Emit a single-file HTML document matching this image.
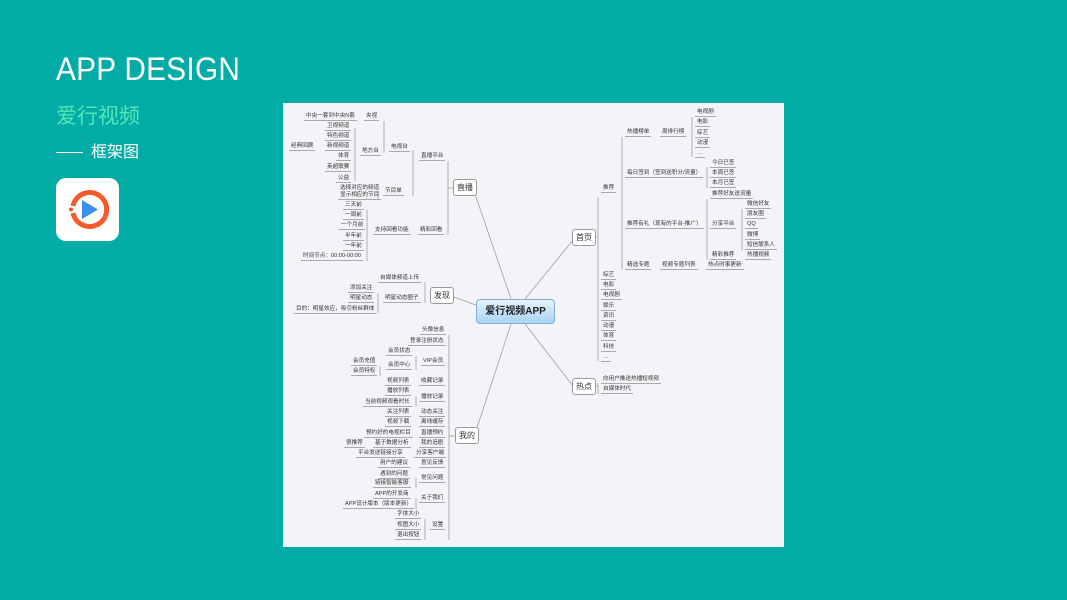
<!DOCTYPE html>
<html><head><meta charset="utf-8"><style>
*{margin:0;padding:0;box-sizing:border-box}
body{width:1067px;height:600px;background:#00aca5;position:relative;overflow:hidden;font-family:"Liberation Sans","Noto Sans CJK SC",sans-serif}
.t1{position:absolute;left:56px;top:51px;color:#fff;font-size:32px;letter-spacing:0.3px;font-weight:300;transform:scaleX(0.93);transform-origin:left top}
.t2{position:absolute;left:56px;top:100px;color:#55e6b6;font-size:21px}
.t3{position:absolute;left:56px;top:138px;color:#fff;font-size:16px}
.t3 i{display:inline-block;width:27px;height:1px;background:#fff;vertical-align:middle;margin-right:8px}
.icon{position:absolute;left:56px;top:178px;width:63px;height:63px;background:#fff;border-radius:10px}
.panel{position:absolute;left:283px;top:103px;width:501px;height:444px;background:#f3f4f7}
.l{position:absolute;font-size:5.6px;line-height:7px;color:#333;white-space:nowrap;border-bottom:1px solid #a9a9a9;padding:0 2px;transform:translateY(-5px)}
.b{position:absolute;font-size:8px;color:#333;background:#fff;border:1px solid #999;border-radius:3px;padding:3px 3px;line-height:9px}
.c{position:absolute;left:476px;top:299px;width:79px;height:25px;border:1px solid #7fb0d8;border-radius:4px;background:linear-gradient(#e6f3fd,#a9d4f4);font-size:10px;color:#222;text-align:center;line-height:23px;font-weight:bold}
svg{position:absolute;left:0;top:0}
</style></head><body>
<div class="t1">APP DESIGN</div>
<div class="t2">爱行视频</div>
<div class="t3"><i></i>框架图</div>
<div class="icon"><svg width="63" height="63" viewBox="0 0 63 63"><path d="M17 28 A17 17 0 1 1 17 35" fill="none" stroke="#f55a2a" stroke-width="5"/><circle cx="15" cy="31.5" r="2" fill="#f55a2a"/><path d="M26 22 L42 31.5 L26 41 Z" fill="#3a8ff0"/></svg></div>
<div class="panel"></div>
<svg width="1067" height="600" fill="none" stroke="#a0a0a0" stroke-width="0.8">
<path d="M511 299 L475 194 M525 299 L573 240 M476 305 L451 296 M511 324 L474 437 M525 324 L573 386"/>
<path d="M384 121 V153 M355 128 V181 M413 150 V196 M448 161 V235 M453 188 H448 M378 191 V199 M367 210 V261 M425 282 V303 M378 293 V313"/>
<path d="M449 335 V540 M449 436 H455 M416 356 V370 M380 366 V376 M416 396 V407 M416 478 V488 M416 498 V509 M425 519 V540"/>
<path d="M598 197 V361 M592 237 H598 M622 137 V270 M692 117 V157 M707 167 V188 M707 199 V260 M742 209 V250 M598 383 V394 M592 386 H598"/>
</svg>
<span class="l" style="left:304px;top:118px">中央一套到中央N套</span>
<span class="l" style="left:364px;top:118px">央视</span>
<span class="l" style="left:325px;top:128px">卫视频道</span>
<span class="l" style="left:325px;top:138px">特色频道</span>
<span class="l" style="left:289px;top:148px">经典回顾</span>
<span class="l" style="left:325px;top:148px">新视频道</span>
<span class="l" style="left:336px;top:158px">体育</span>
<span class="l" style="left:325px;top:169px">英超联赛</span>
<span class="l" style="left:336px;top:180px">公益</span>
<span class="l" style="left:360px;top:153px">地方台</span>
<span class="l" style="left:389px;top:149px">电视台</span>
<span class="l" style="left:419px;top:158px">直播平台</span>
<span class="l" style="left:338px;top:190px;border:none">选择对应的频道</span>
<span class="l" style="left:338px;top:197px">显示相应的节目</span>
<span class="l" style="left:383px;top:193px">节目单</span>
<span class="l" style="left:343px;top:207px">三天前</span>
<span class="l" style="left:343px;top:217px">一周前</span>
<span class="l" style="left:339px;top:227px">一个月前</span>
<span class="l" style="left:343px;top:238px">半年前</span>
<span class="l" style="left:343px;top:248px">一年前</span>
<span class="l" style="left:301px;top:258px">时间节点：00:00-00:00</span>
<span class="l" style="left:373px;top:232px">支持回看功能</span>
<span class="l" style="left:418px;top:232px">精彩回看</span>
<div class="b" style="left:453px;top:179px">直播</div>
<span class="l" style="left:378px;top:280px">自媒体频道上传</span>
<span class="l" style="left:348px;top:290px">添加关注</span>
<span class="l" style="left:348px;top:300px">明星动态</span>
<span class="l" style="left:383px;top:300px">明星动态圈子</span>
<span class="l" style="left:294px;top:311px">目的：明星效应，吸引粉丝群体</span>
<div class="b" style="left:430px;top:287px">发现</div>
<div class="c">爱行视频APP</div>
<span class="l" style="left:420px;top:332px">头像信息</span>
<span class="l" style="left:408px;top:343px">登录注册状态</span>
<span class="l" style="left:386px;top:353px">会员状态</span>
<span class="l" style="left:351px;top:363px">会员充值</span>
<span class="l" style="left:386px;top:367px">会员中心</span>
<span class="l" style="left:421px;top:363px">VIP会员</span>
<span class="l" style="left:351px;top:373px">会员特权</span>
<span class="l" style="left:385px;top:383px">视频列表</span>
<span class="l" style="left:419px;top:383px">收藏记录</span>
<span class="l" style="left:385px;top:393px">播放列表</span>
<span class="l" style="left:419px;top:399px">播放记录</span>
<span class="l" style="left:363px;top:404px">当前视频观看时长</span>
<span class="l" style="left:385px;top:414px">关注列表</span>
<span class="l" style="left:419px;top:414px">动态关注</span>
<span class="l" style="left:385px;top:424px">视频下载</span>
<span class="l" style="left:419px;top:424px">离线缓存</span>
<span class="l" style="left:364px;top:435px">预约好的电视栏目</span>
<span class="l" style="left:419px;top:435px">直播预约</span>
<span class="l" style="left:344px;top:445px">很推荐</span>
<span class="l" style="left:373px;top:445px">基于数据分析</span>
<span class="l" style="left:419px;top:445px">我的追剧</span>
<span class="l" style="left:356px;top:455px">平台发送链接分享</span>
<span class="l" style="left:414px;top:455px">分享客户端</span>
<span class="l" style="left:378px;top:465px">用户的建议</span>
<span class="l" style="left:419px;top:465px">意见反馈</span>
<span class="l" style="left:378px;top:476px">遇到的问题</span>
<span class="l" style="left:419px;top:480px">常见问题</span>
<span class="l" style="left:373px;top:485px">链接智能客服</span>
<span class="l" style="left:373px;top:496px">APP的开发商</span>
<span class="l" style="left:419px;top:500px">关于我们</span>
<span class="l" style="left:343px;top:506px">APP设计版本（版本更新）</span>
<span class="l" style="left:395px;top:516px">字体大小</span>
<span class="l" style="left:395px;top:527px">视图大小</span>
<span class="l" style="left:430px;top:527px">设置</span>
<span class="l" style="left:395px;top:537px">退出按钮</span>
<div class="b" style="left:455px;top:427px">我的</div>
<span class="l" style="left:695px;top:114px">电视剧</span>
<span class="l" style="left:695px;top:124px">电影</span>
<span class="l" style="left:695px;top:135px">综艺</span>
<span class="l" style="left:695px;top:145px">动漫</span>
<span class="l" style="left:695px;top:155px">…</span>
<span class="l" style="left:625px;top:134px">热播榜单</span>
<span class="l" style="left:660px;top:134px">周排行榜</span>
<span class="l" style="left:625px;top:175px">每日签到（签到送积分/流量）</span>
<span class="l" style="left:710px;top:165px">今日已签</span>
<span class="l" style="left:710px;top:175px">本周已签</span>
<span class="l" style="left:710px;top:185px">本月已签</span>
<span class="l" style="left:710px;top:196px">推荐好友送流量</span>
<span class="l" style="left:745px;top:206px">微信好友</span>
<span class="l" style="left:745px;top:216px">朋友圈</span>
<span class="l" style="left:745px;top:226px">QQ</span>
<span class="l" style="left:745px;top:237px">微博</span>
<span class="l" style="left:745px;top:247px">短信联系人</span>
<span class="l" style="left:710px;top:226px">分享平台</span>
<span class="l" style="left:710px;top:257px">精彩推荐</span>
<span class="l" style="left:745px;top:257px">热播视频</span>
<span class="l" style="left:625px;top:226px">推荐有礼（现有的平台-推广）</span>
<span class="l" style="left:625px;top:267px">精选专题</span>
<span class="l" style="left:660px;top:267px">视频专题列表</span>
<span class="l" style="left:706px;top:267px">热点时事更新</span>
<span class="l" style="left:601px;top:190px">推荐</span>
<div class="b" style="left:572px;top:229px">首页</div>
<span class="l" style="left:601px;top:277px">综艺</span>
<span class="l" style="left:601px;top:287px">电影</span>
<span class="l" style="left:601px;top:297px">电视剧</span>
<span class="l" style="left:601px;top:308px">娱乐</span>
<span class="l" style="left:601px;top:318px">资讯</span>
<span class="l" style="left:601px;top:328px">动漫</span>
<span class="l" style="left:601px;top:338px">体育</span>
<span class="l" style="left:601px;top:349px">科技</span>
<span class="l" style="left:601px;top:359px">…</span>
<div class="b" style="left:572px;top:378px">热点</div>
<span class="l" style="left:601px;top:381px">向用户推送热播短视频</span>
<span class="l" style="left:601px;top:391px">自媒体时代</span>
</body></html>
